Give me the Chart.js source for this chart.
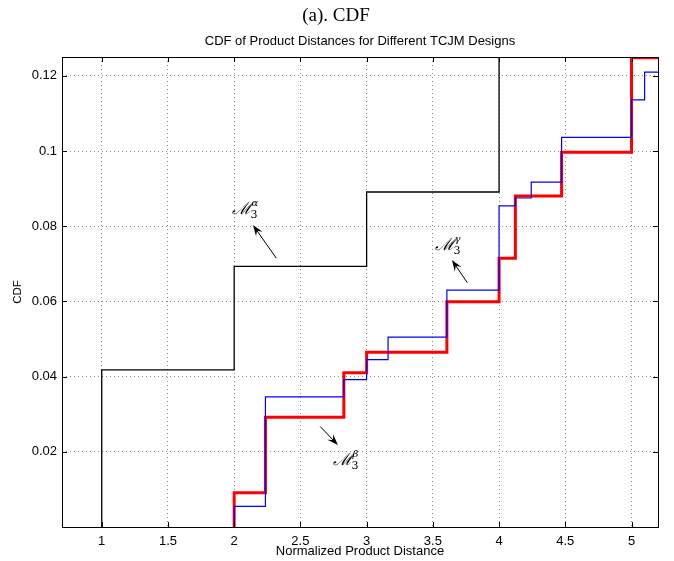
<!DOCTYPE html>
<html>
<head>
<meta charset="utf-8">
<script src="https://cdn.jsdelivr.net/npm/chart.js@4/dist/chart.umd.min.js"></script>
<style>
  html, body { margin: 0; padding: 0; background: #fff; }
  #wrap { width: 674px; height: 561px; }
</style>
</head>
<body>
<div id="wrap"><canvas id="cdf"></canvas></div>
<script>
// DATA - jump positions and CDF level after each jump
const alphaX = [1, 2, 3, 4];
const alphaY = [0.0418, 0.0693, 0.0891, 0.14];

const betaX = [2, 2.236, 2.828, 3, 3.606, 4, 4.123, 4.472, 5];
const betaY = [0.0091, 0.0292, 0.041, 0.0465, 0.0599, 0.0715, 0.088, 0.0997, 0.1248];

const gammaX = [2, 2.236, 2.828, 3, 3.162, 3.606, 4, 4.123, 4.243, 4.472, 5, 5.099];
const gammaY = [0.0055, 0.0346, 0.0392, 0.0445, 0.0505, 0.063, 0.0854, 0.0875, 0.0917, 0.1036, 0.1136, 0.121];

const xTicks = [1, 1.5, 2, 2.5, 3, 3.5, 4, 4.5, 5];
const xTickLabels = ['1', '1.5', '2', '2.5', '3', '3.5', '4', '4.5', '5'];
const yTicks = [0.02, 0.04, 0.06, 0.08, 0.1, 0.12];
const yTickLabels = ['0.02', '0.04', '0.06', '0.08', '0.1', '0.12'];

const xMin = 0.7, xMax = 5.2;
const yMin = 0, yMax = 0.125;

// labels with arrows (data coords)
const notes = [
    {sup: 'α', lx: 1.98, ly: 0.0832, tx: 2.318, ty: 0.0715, hx: 2.142, hy: 0.0803},
    {sup: 'γ', lx: 3.513, ly: 0.0737, tx: 3.760, ty: 0.065, hx: 3.644, hy: 0.0710},
    {sup: 'β', lx: 2.743, ly: 0.0165, tx: 2.650, ty: 0.0267, hx: 2.783, hy: 0.0218}
];

// turn jumps into step points: start at 0, run out to the right edge
stepPoints = (xs, ys) => {
    let pts = [{x: xs[0], y: 0}];
    xs.forEach((x, i) => pts.push({x: x, y: ys[i]}));
    pts.push({x: xMax, y: ys[ys.length - 1]});
    return pts;
};

const sans = '"Liberation Sans", Arial, Helvetica, sans-serif';

const frame = {
    id: 'frame',
    afterDatasetsDraw(chart) {
        const ctx = chart.ctx;
        const a = chart.chartArea;
        const xs = chart.scales.x, ys = chart.scales.y;
        ctx.save();

        // annotations
        notes.forEach(n => {
            const px = xs.getPixelForValue(n.lx), py = ys.getPixelForValue(n.ly);
            ctx.fillStyle = '#000';
            ctx.textAlign = 'left';
            ctx.textBaseline = 'alphabetic';
            ctx.font = 'italic 17px "DejaVu Serif"';
            ctx.fillText('ℳ', px, py);
            const w = ctx.measureText('ℳ').width;
            ctx.font = '11px "DejaVu Serif"';
            ctx.fillText('3', px + w - 1, py + 4);
            ctx.font = 'italic 10px "DejaVu Serif"';
            ctx.fillText(n.sup, px + w, py - 8);

            const x0 = xs.getPixelForValue(n.tx), y0 = ys.getPixelForValue(n.ty);
            const x1 = xs.getPixelForValue(n.hx), y1 = ys.getPixelForValue(n.hy);
            const ang = Math.atan2(y1 - y0, x1 - x0);
            ctx.strokeStyle = '#000';
            ctx.lineWidth = 1;
            ctx.beginPath();
            ctx.moveTo(x0, y0);
            ctx.lineTo(x1 - 6 * Math.cos(ang), y1 - 6 * Math.sin(ang));
            ctx.stroke();
            ctx.beginPath();
            ctx.moveTo(x1, y1);
            ctx.lineTo(x1 - 11 * Math.cos(ang) + 4 * Math.sin(ang), y1 - 11 * Math.sin(ang) - 4 * Math.cos(ang));
            ctx.lineTo(x1 - 7 * Math.cos(ang), y1 - 7 * Math.sin(ang));
            ctx.lineTo(x1 - 11 * Math.cos(ang) - 4 * Math.sin(ang), y1 - 11 * Math.sin(ang) + 4 * Math.cos(ang));
            ctx.closePath();
            ctx.fill();
        });

        // box + inward ticks
        ctx.strokeStyle = '#000';
        ctx.lineWidth = 1;
        ctx.strokeRect(Math.round(a.left) + 0.5, Math.round(a.top) + 0.5,
            Math.round(a.right - a.left), Math.round(a.bottom - a.top));
        ctx.beginPath();
        xTicks.forEach(v => {
            const p = Math.round(xs.getPixelForValue(v)) + 0.5;
            ctx.moveTo(p, a.bottom); ctx.lineTo(p, a.bottom - 5);
            ctx.moveTo(p, a.top); ctx.lineTo(p, a.top + 5);
        });
        yTicks.forEach(v => {
            const p = Math.round(ys.getPixelForValue(v)) + 0.5;
            ctx.moveTo(a.left, p); ctx.lineTo(a.left + 5, p);
            ctx.moveTo(a.right, p); ctx.lineTo(a.right - 5, p);
        });
        ctx.stroke();

        // titles
        ctx.fillStyle = '#000';
        ctx.textAlign = 'center';
        ctx.textBaseline = 'alphabetic';
        ctx.font = '19px "Liberation Serif", "Times New Roman", serif';
        ctx.fillText('(a). CDF', 336, 21);
        ctx.font = '13px ' + sans;
        ctx.fillText('CDF of Product Distances for Different TCJM Designs', (a.left + a.right) / 2, 45);
        ctx.fillText('Normalized Product Distance', (a.left + a.right) / 2, 555);
        ctx.font = '11.5px ' + sans;
        ctx.translate(21, (a.top + a.bottom) / 2);
        ctx.rotate(-Math.PI / 2);
        ctx.fillText('CDF', 0, 0);
        ctx.restore();
    }
};

const ctxCdf = document.getElementById('cdf').getContext('2d');
let chartCdf = new Chart(ctxCdf, {
    type: 'line',
    data: {
        datasets: [{
            label: 'gamma',
            data: stepPoints(gammaX, gammaY),
            borderColor: '#0000ff',
            borderWidth: 1.2,
            stepped: 'before',
            pointRadius: 0,
            fill: false
        }, {
            label: 'beta',
            data: stepPoints(betaX, betaY),
            borderColor: '#ff0000',
            borderWidth: 3,
            stepped: 'before',
            pointRadius: 0,
            fill: false
        }, {
            label: 'alpha',
            data: stepPoints(alphaX, alphaY),
            borderColor: '#000000',
            borderWidth: 1.3,
            stepped: 'before',
            pointRadius: 0,
            fill: false
        }]
    },
    options: {
        responsive: true,
        maintainAspectRatio: false,
        animation: false,
        layout: { padding: { top: 57, right: 16, left: 0, bottom: 0 } },
        plugins: {
            legend: { display: false },
            title: { display: false },
            tooltip: { enabled: false }
        },
        scales: {
            x: {
                type: 'linear',
                min: xMin,
                max: xMax,
                afterFit: s => { s.height = 34; },
                afterBuildTicks: s => { s.ticks = xTicks.map(v => ({value: v})); },
                ticks: {
                    padding: 7,
                    color: '#000',
                    font: { family: sans, size: 13 },
                    maxRotation: 0,
                    callback: (v, i) => xTickLabels[i]
                },
                grid: { color: '#8a8a8a', drawTicks: false, lineWidth: 1 },
                border: { display: false, dash: [1, 3] }
            },
            y: {
                type: 'linear',
                min: yMin,
                max: yMax,
                afterFit: s => { s.width = 62; },
                afterBuildTicks: s => { s.ticks = yTicks.map(v => ({value: v})); },
                ticks: {
                    padding: 5,
                    color: '#000',
                    font: { family: sans, size: 13 },
                    callback: (v, i) => yTickLabels[i]
                },
                grid: { color: '#8a8a8a', drawTicks: false, lineWidth: 1 },
                border: { display: false, dash: [1, 3] }
            }
        }
    },
    plugins: [frame]
});
</script>
</body>
</html>
